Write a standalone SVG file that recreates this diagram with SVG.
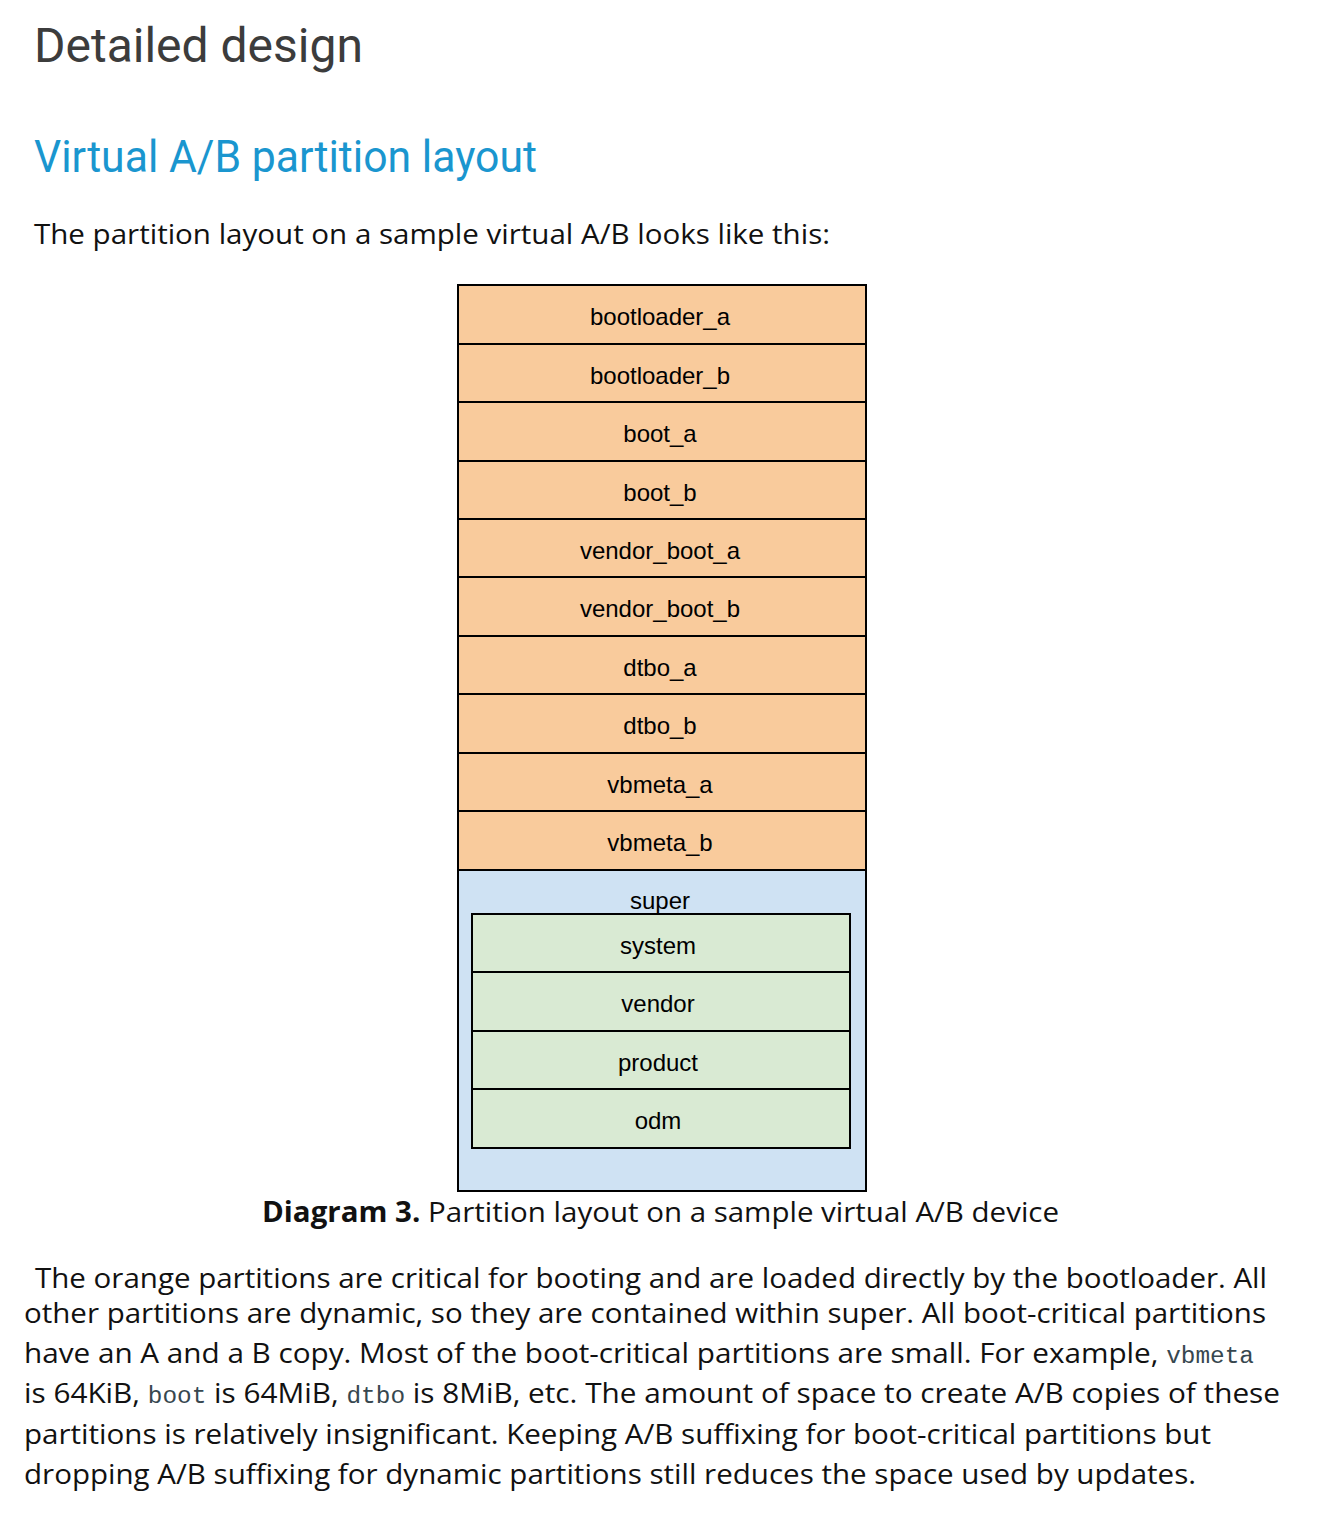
<svg xmlns="http://www.w3.org/2000/svg" width="1332" height="1520" viewBox="0 0 1332 1520">
<style>
.h1{font-family:Roboto,"Liberation Sans",sans-serif;font-size:48px;fill:#3c3c3c}
.h2{font-family:Roboto,"Liberation Sans",sans-serif;font-size:45px;fill:#1a96cf}
.body{font-family:"Open Sans","Liberation Sans",sans-serif;font-size:28px;fill:#111}
.mono{font-family:"Liberation Mono","DejaVu Sans Mono",monospace;font-size:23px;fill:#37474f}
.bold{font-weight:bold}
.lbl{font-family:"Liberation Sans",Arial,sans-serif;font-size:24px;fill:#000;text-anchor:middle}
.or{fill:#f9cb9c;stroke:#000;stroke-width:2}
.bl{fill:#cfe2f3;stroke:#000;stroke-width:2}
.gr{fill:#d9ead3;stroke:#000;stroke-width:2}
</style>
<rect width="1332" height="1520" fill="#fff"/>
<text class="h1" x="34" y="62">Detailed design</text>
<text class="h2" x="34" y="172" textLength="503" lengthAdjust="spacingAndGlyphs">Virtual A/B partition layout</text>
<text class="body" x="34" y="244" textLength="796" lengthAdjust="spacingAndGlyphs">The partition layout on a sample virtual A/B looks like this:</text>

<g id="bootloader_a"><rect class="or" x="458" y="285" width="408" height="59"/><text class="lbl" x="660" y="325">bootloader_a</text></g>
<g id="bootloader_b"><rect class="or" x="458" y="344" width="408" height="58"/><text class="lbl" x="660" y="384">bootloader_b</text></g>
<g id="boot_a"><rect class="or" x="458" y="402" width="408" height="59"/><text class="lbl" x="660" y="442">boot_a</text></g>
<g id="boot_b"><rect class="or" x="458" y="461" width="408" height="58"/><text class="lbl" x="660" y="501">boot_b</text></g>
<g id="vendor_boot_a"><rect class="or" x="458" y="519" width="408" height="58"/><text class="lbl" x="660" y="559">vendor_boot_a</text></g>
<g id="vendor_boot_b"><rect class="or" x="458" y="577" width="408" height="59"/><text class="lbl" x="660" y="617">vendor_boot_b</text></g>
<g id="dtbo_a"><rect class="or" x="458" y="636" width="408" height="58"/><text class="lbl" x="660" y="676">dtbo_a</text></g>
<g id="dtbo_b"><rect class="or" x="458" y="694" width="408" height="59"/><text class="lbl" x="660" y="734">dtbo_b</text></g>
<g id="vbmeta_a"><rect class="or" x="458" y="753" width="408" height="58"/><text class="lbl" x="660" y="793">vbmeta_a</text></g>
<g id="vbmeta_b"><rect class="or" x="458" y="811" width="408" height="59"/><text class="lbl" x="660" y="851">vbmeta_b</text></g>
<g id="super"><rect class="bl" x="458" y="870" width="408" height="321"/><text class="lbl" x="660" y="909">super</text></g>
<g id="system"><rect class="gr" x="472" y="914" width="378" height="58"/><text class="lbl" x="658" y="954">system</text></g>
<g id="vendor"><rect class="gr" x="472" y="972" width="378" height="59"/><text class="lbl" x="658" y="1012">vendor</text></g>
<g id="product"><rect class="gr" x="472" y="1031" width="378" height="58"/><text class="lbl" x="658" y="1071">product</text></g>
<g id="odm"><rect class="gr" x="472" y="1089" width="378" height="59"/><text class="lbl" x="658" y="1129">odm</text></g>
<g id="connectors"></g>

<text class="body" x="262" y="1222" textLength="797" lengthAdjust="spacingAndGlyphs"><tspan class="bold">Diagram 3.</tspan> Partition layout on a sample virtual A/B device</text>

<text class="body" x="35" y="1288" textLength="1232" lengthAdjust="spacingAndGlyphs">The orange partitions are critical for booting and are loaded directly by the bootloader. All</text>
<text class="body" x="24" y="1323" textLength="1242" lengthAdjust="spacingAndGlyphs">other partitions are dynamic, so they are contained within super. All boot-critical partitions</text>
<text class="body" x="24" y="1363" textLength="1230" lengthAdjust="spacingAndGlyphs">have an A and a B copy. Most of the boot-critical partitions are small. For example, <tspan class="mono">vbmeta</tspan></text>
<text class="body" x="24" y="1403" textLength="1256" lengthAdjust="spacingAndGlyphs">is 64KiB, <tspan class="mono">boot</tspan> is 64MiB, <tspan class="mono">dtbo</tspan> is 8MiB, etc. The amount of space to create A/B copies of these</text>
<text class="body" x="24" y="1444" textLength="1187" lengthAdjust="spacingAndGlyphs">partitions is relatively insignificant. Keeping A/B suffixing for boot-critical partitions but</text>
<text class="body" x="24" y="1484" textLength="1172" lengthAdjust="spacingAndGlyphs">dropping A/B suffixing for dynamic partitions still reduces the space used by updates.</text>
</svg>
